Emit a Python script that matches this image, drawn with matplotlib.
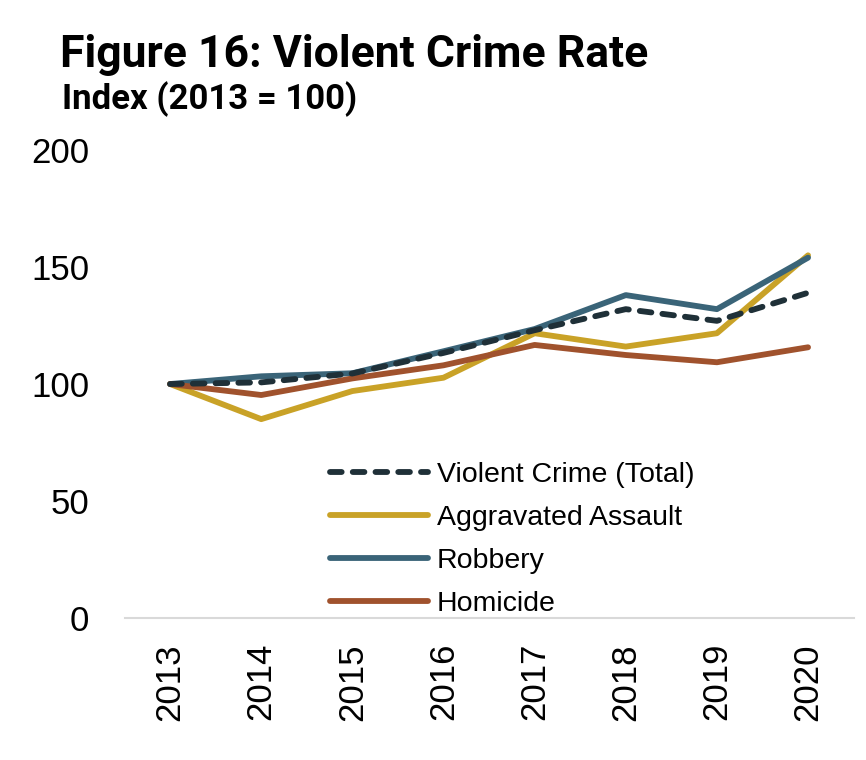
import matplotlib
matplotlib.use("Agg")
import matplotlib.pyplot as plt

# data
years = ["2013", "2014", "2015", "2016", "2017", "2018", "2019", "2020"]
violent_total = [100, 100.7, 104.5, 113.3, 123, 132, 127, 139]
aggravated = [100, 85, 97, 102.7, 121.7, 116, 121.7, 155]
robbery = [100, 103.3, 104.6, 114, 123.5, 138, 132, 154]
homicide = [100, 95.3, 102.4, 108, 116.7, 112.4, 109.3, 115.7]

fig = plt.figure(figsize=(8.66, 7.6), dpi=100)
ax = fig.add_axes([0.1438, 0.1868, 0.8419, 0.6158])

x = list(range(len(years)))
lw = 4.2
ax.plot(x, violent_total, color="#1f3038", lw=lw, ls=(0, (2.0, 1.9)),
        dash_capstyle="round", label="Violent Crime (Total)", zorder=5)
ax.plot(x, aggravated, color="#c9a227", lw=lw, label="Aggravated Assault",
        solid_capstyle="round")
ax.plot(x, robbery, color="#3a6478", lw=lw, label="Robbery",
        solid_capstyle="round")
ax.plot(x, homicide, color="#a0522d", lw=lw, label="Homicide",
        solid_capstyle="round")

ax.set_xlim(-0.5, 7.5)
ax.set_ylim(0, 200)
ax.set_yticks([0, 50, 100, 150, 200])
ax.set_xticks(x)
ax.set_xticklabels(years, rotation=90, fontsize=25, family="Liberation Sans")
for t in ax.get_yticklabels():
    t.set_family("Liberation Sans")
    t.set_fontsize(25)
ax.tick_params(axis="both", length=0)
ax.tick_params(axis="y", pad=25.5)
ax.tick_params(axis="x", pad=18)

for s in ["top", "right", "left"]:
    ax.spines[s].set_visible(False)
ax.spines["bottom"].set_color("#d9d9d9")
ax.spines["bottom"].set_linewidth(1.5)

leg = ax.legend(loc="upper left", bbox_to_anchor=(330 / 866, 1 - 462 / 760),
                bbox_transform=fig.transFigure, frameon=False, fontsize=20.5,
                handlelength=3.45, handletextpad=0.3, labelspacing=0.6,
                borderpad=0, borderaxespad=0)
for t in leg.get_texts():
    t.set_family("Liberation Sans")

fig.text(60 / 866, 1 - 67 / 760, "Figure 16: Violent Crime Rate", fontsize=32,
         fontweight="bold", family="Roboto", va="baseline")
fig.text(62 / 866, 1 - 109 / 760, "Index (2013 = 100)", fontsize=25,
         fontweight="bold", family="Roboto", va="baseline")

fig.savefig("out.png", dpi=100)
